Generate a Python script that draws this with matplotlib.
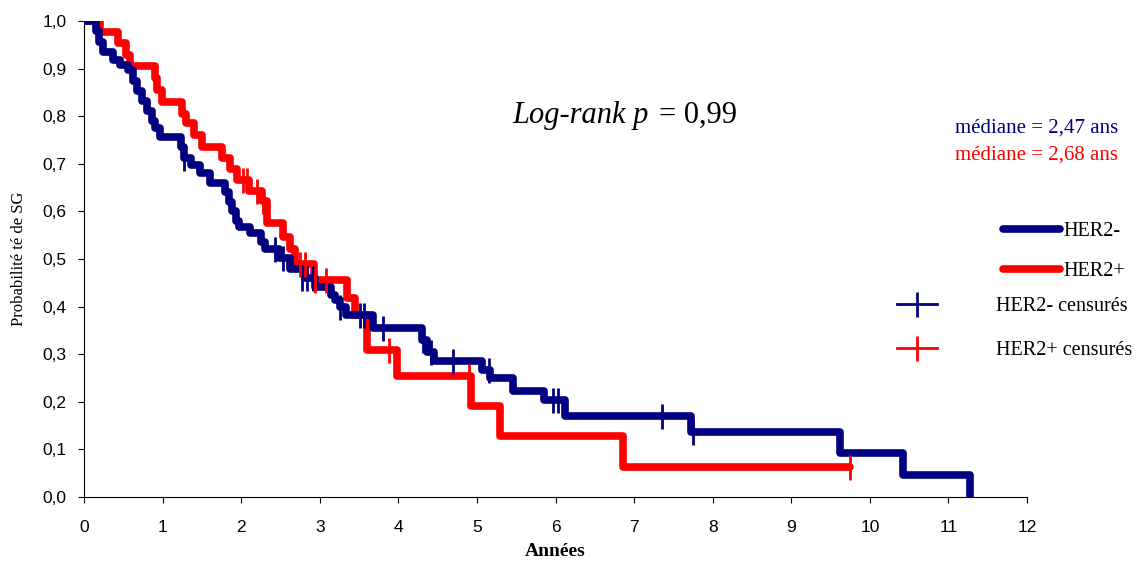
import numpy as np
import matplotlib
matplotlib.use('Agg')
import matplotlib.pyplot as plt
from matplotlib.lines import Line2D
from matplotlib.ticker import FuncFormatter

# courbes de survie (temps de début de palier, survie du palier)
her2_neg_t = [0, 0.15, 0.19, 0.24, 0.37, 0.46, 0.56, 0.62, 0.68, 0.74, 0.80, 0.86, 0.90, 0.97,
              1.24, 1.27, 1.36, 1.48, 1.60, 1.79, 1.84, 1.88, 1.93, 1.97, 2.11, 2.25, 2.30,
              2.48, 2.62, 2.81, 2.94, 3.14, 3.20, 3.26, 3.33, 3.68, 4.30, 4.36, 4.46, 5.06,
              5.17, 5.46, 5.85, 6.12, 7.72, 9.62, 10.42, 11.27]
her2_neg_s = [1.0, 0.978, 0.956, 0.935, 0.918, 0.907, 0.897, 0.875, 0.853, 0.832, 0.81, 0.79, 0.775, 0.757,
              0.735, 0.713, 0.697, 0.68, 0.66, 0.64, 0.62, 0.60, 0.58, 0.568, 0.555, 0.535, 0.52,
              0.502, 0.48, 0.46, 0.441, 0.425, 0.414, 0.40, 0.382, 0.355, 0.33, 0.305, 0.286, 0.267,
              0.25, 0.223, 0.204, 0.17, 0.137, 0.093, 0.046, 0.0]

her2_pos_t = [0, 0.20, 0.43, 0.53, 0.59, 0.90, 0.93, 0.99, 1.25, 1.30, 1.40, 1.50, 1.75, 1.86,
              1.95, 2.10, 2.26, 2.33, 2.53, 2.62, 2.68, 2.93, 3.35, 3.45, 3.60, 3.98, 4.93,
              5.29, 6.86, 9.75]
her2_pos_s = [1.0, 0.977, 0.953, 0.928, 0.905, 0.88, 0.855, 0.83, 0.805, 0.785, 0.76, 0.735, 0.712, 0.69,
              0.666, 0.643, 0.622, 0.575, 0.547, 0.52, 0.49, 0.456, 0.418, 0.382, 0.309, 0.254, 0.191,
              0.128, 0.064, 0.064]

# patients censurés
cens_neg_t = [1.27, 2.43, 2.53, 2.78, 2.84, 2.92, 3.26, 3.51, 3.56, 3.81, 4.31, 4.42, 4.69, 5.15,
              5.97, 6.03, 7.35, 7.75]
cens_neg_s = [0.713, 0.52, 0.502, 0.46, 0.46, 0.46, 0.40, 0.382, 0.382, 0.355, 0.33, 0.305, 0.286, 0.267,
              0.204, 0.204, 0.17, 0.137]
cens_pos_t = [2.02, 2.07, 2.20, 2.28, 2.75, 2.81, 2.94, 3.08, 3.88, 4.90, 9.75]
cens_pos_s = [0.666, 0.666, 0.643, 0.622, 0.49, 0.49, 0.456, 0.456, 0.309, 0.254, 0.064]

BLEU = '#000080'
ROUGE = '#FF0000'
serif = 'Liberation Serif'

fig = plt.figure(figsize=(11.43, 5.75), dpi=100)
ax = fig.add_axes([84 / 1143, 1 - 497 / 575, (1027 - 84) / 1143, (497 - 21) / 575])

ax.step(her2_neg_t, her2_neg_s, where='post', color=BLEU, lw=5.5,
        solid_joinstyle='round', solid_capstyle='round', zorder=3)
ax.step(her2_pos_t, her2_pos_s, where='post', color=ROUGE, lw=5.5,
        solid_joinstyle='round', solid_capstyle='round', zorder=2)
ax.plot(cens_neg_t, cens_neg_s, ls='none', marker='|', ms=18, mew=2, color=BLEU, zorder=4)
ax.plot(cens_pos_t, cens_pos_s, ls='none', marker='|', ms=18, mew=2, color=ROUGE, zorder=4)

ax.set_xlim(0, 12)
ax.set_ylim(0, 1.0)
ax.set_xticks(range(0, 13))
ax.set_yticks(np.arange(0, 1.01, 0.1))
ax.yaxis.set_major_formatter(FuncFormatter(lambda v, p: f'{v:.1f}'.replace('.', ',')))
for s in ['top', 'right']:
    ax.spines[s].set_visible(False)
for s in ['left', 'bottom']:
    ax.spines[s].set_linewidth(0.8)
ax.tick_params(axis='x', length=4.5, width=0.8, pad=12, labelsize=12.5)
ax.tick_params(axis='y', length=4.5, width=0.8, pad=8, labelsize=12.5)
for lab in ax.get_xticklabels() + ax.get_yticklabels():
    lab.set_fontfamily('Liberation Sans')

ax.set_xlabel('Années', fontfamily=serif, fontweight='bold', fontsize=14, labelpad=6)
ax.set_ylabel('Probabilité té de SG', fontfamily=serif, fontsize=12, labelpad=11)

# annotations
fig.text(649 / 1143, 1 - 123 / 575, 'Log-rank p', fontfamily=serif, style='italic',
         fontsize=22, ha='right', va='baseline')
fig.text(659 / 1143, 1 - 123 / 575, '= 0,99', fontfamily=serif, fontsize=22,
         ha='left', va='baseline')
fig.text(955 / 1143, 1 - 133 / 575, 'médiane = 2,47 ans', fontfamily=serif, fontsize=15,
         color=BLEU, va='baseline')
fig.text(955 / 1143, 1 - 160 / 575, 'médiane = 2,68 ans', fontfamily=serif, fontsize=15,
         color=ROUGE, va='baseline')

# légendes
h1 = [Line2D([], [], color=BLEU, lw=5.5, solid_capstyle='round'),
      Line2D([], [], color=ROUGE, lw=5.5, solid_capstyle='round')]
leg1 = fig.legend(h1, ['HER2-', 'HER2+'], loc='upper left',
                  bbox_to_anchor=(1003 / 1143, 1 - 222 / 575), bbox_transform=fig.transFigure,
                  frameon=False, borderpad=0, borderaxespad=0, handlelength=2.85,
                  handletextpad=0.15, labelspacing=1.02, prop={'family': serif, 'size': 14.5})
h2 = [Line2D([], [], color=BLEU, lw=2, marker='|', ms=18, mew=2),
      Line2D([], [], color=ROUGE, lw=2, marker='|', ms=18, mew=2)]
leg2 = fig.legend(h2, ['HER2- censurés', 'HER2+ censurés'], loc='upper left',
                  bbox_to_anchor=(897 / 1143, 1 - 297 / 575), bbox_transform=fig.transFigure,
                  frameon=False, borderpad=0, borderaxespad=0, handlelength=2.0,
                  handletextpad=2.9, labelspacing=1.25, prop={'family': serif, 'size': 14.5})

fig.savefig('out.png', dpi=100)
